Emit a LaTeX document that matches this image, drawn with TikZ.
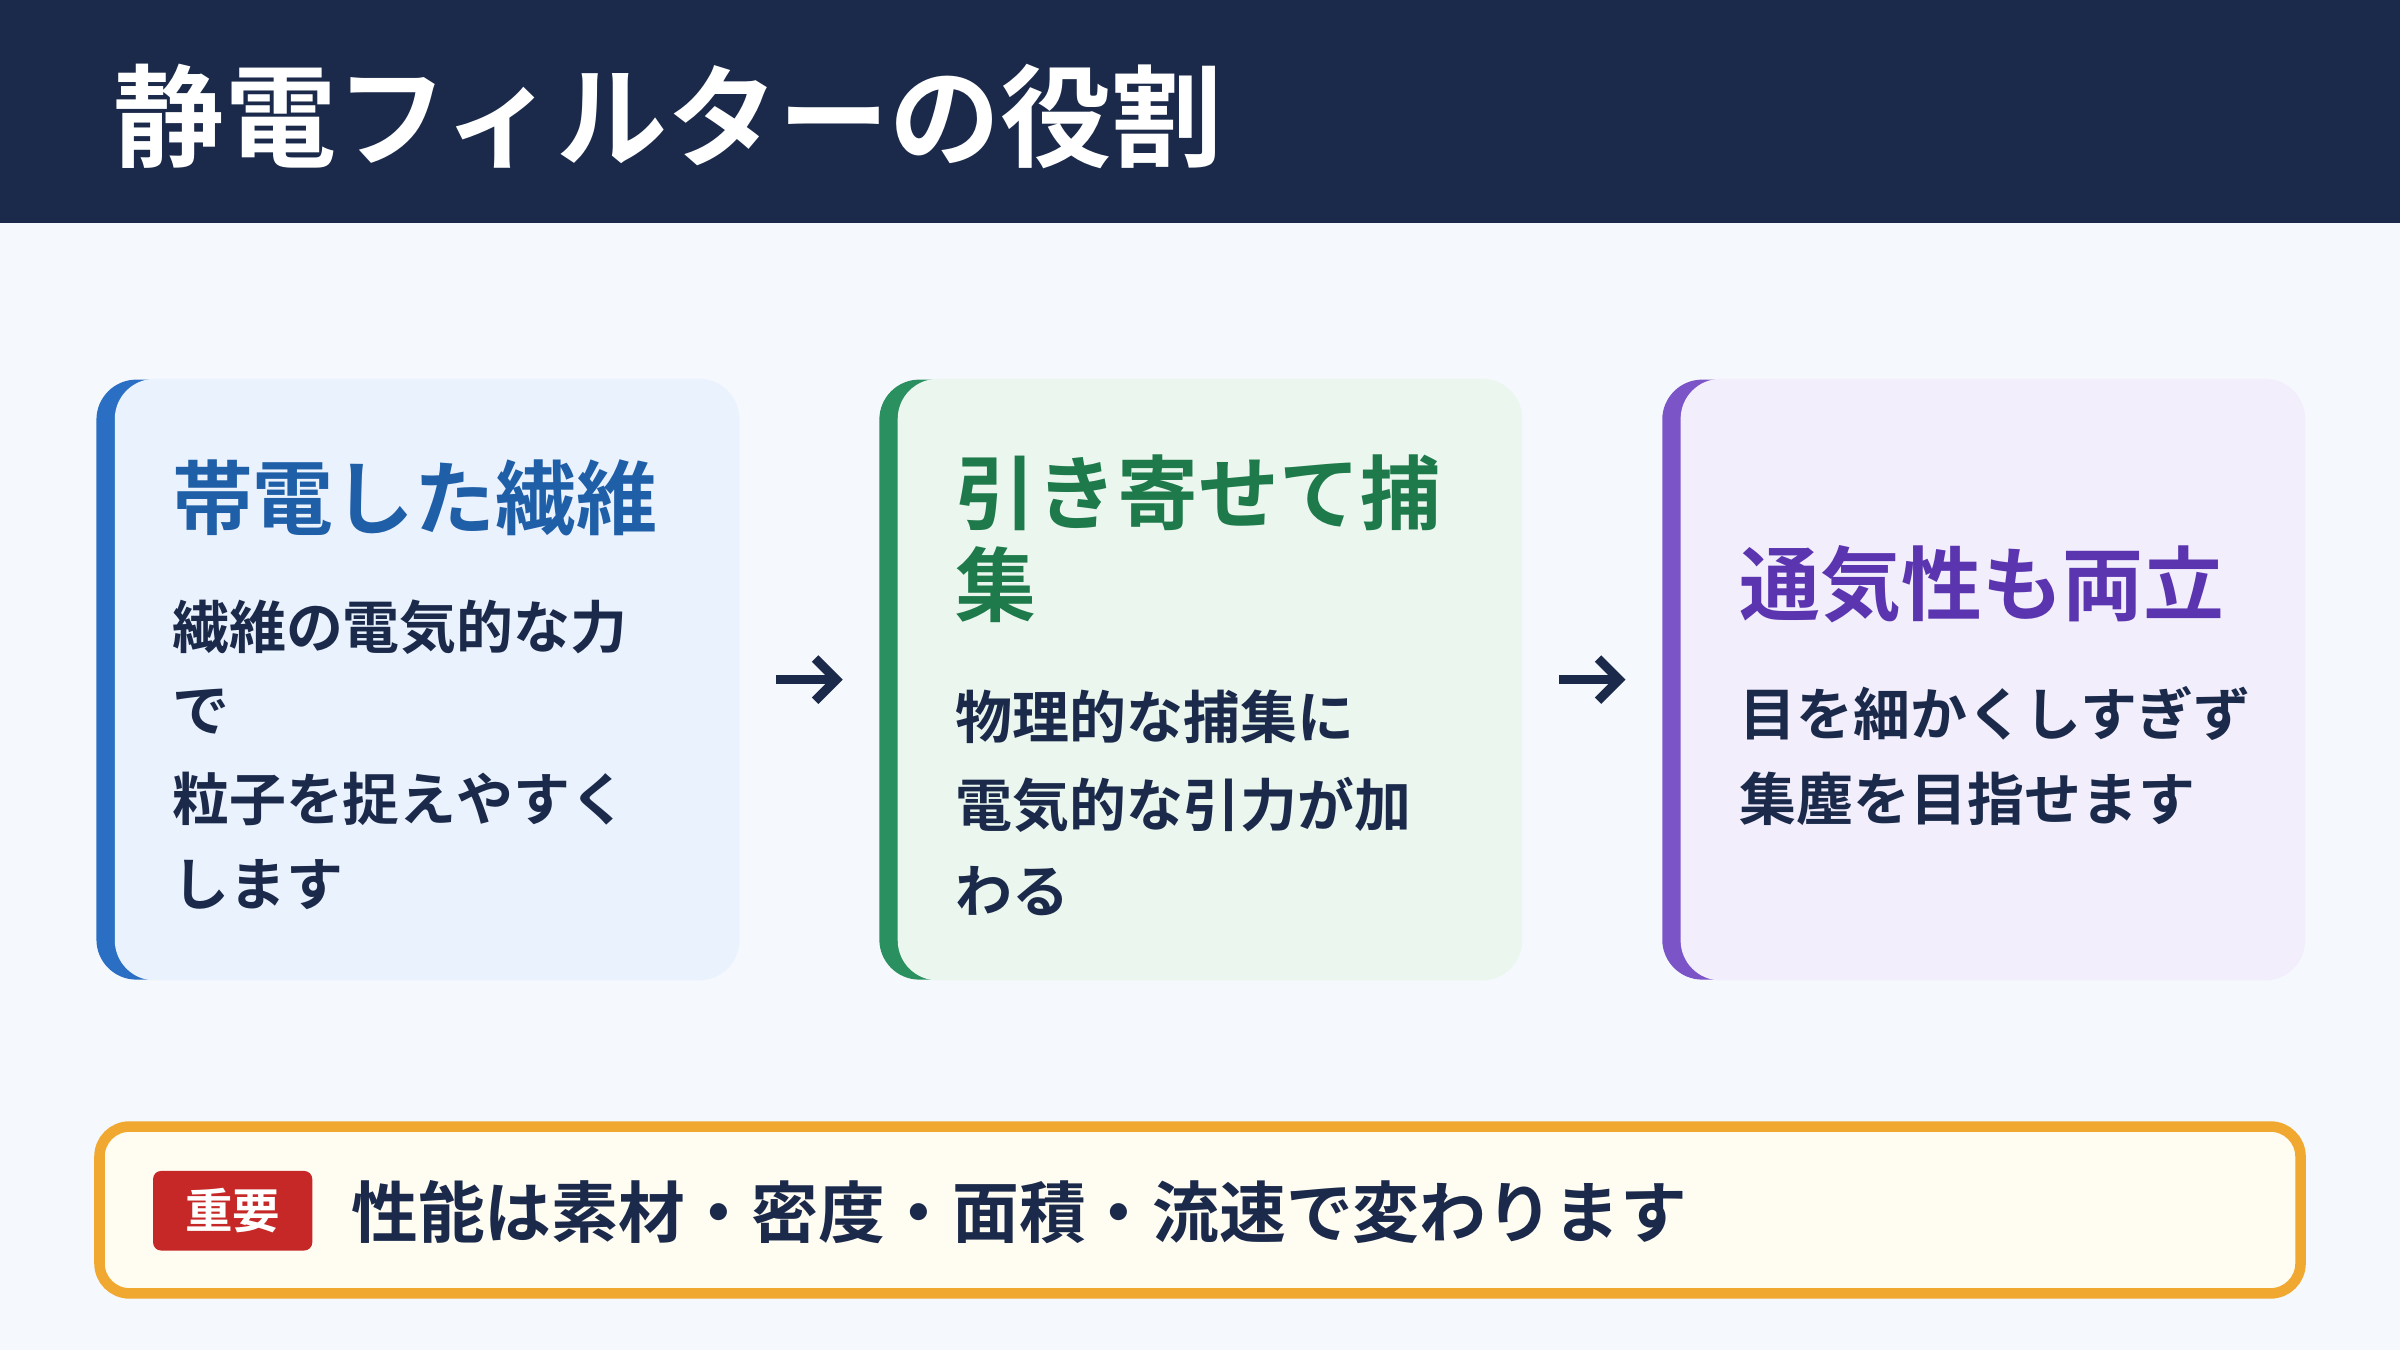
\documentclass[tikz,border=0pt]{standalone}
\usepackage{fontspec}
\setmainfont{Noto Sans CJK JP}[BoldFont={* Bold}]
\usetikzlibrary{arrows.meta}
\definecolor{navy}{HTML}{1B2A4A}
\definecolor{pagebg}{HTML}{F5F8FC}
\definecolor{blueacc}{HTML}{2A6FC4}
\definecolor{bluefill}{HTML}{EAF2FE}
\definecolor{bluetxt}{HTML}{1F5FA8}
\definecolor{greenacc}{HTML}{2A9060}
\definecolor{greenfill}{HTML}{EAF6EE}
\definecolor{greentxt}{HTML}{1E7A4A}
\definecolor{purpacc}{HTML}{7B55C8}
\definecolor{purpfill}{HTML}{F2EEFC}
\definecolor{purptxt}{HTML}{5B35B0}
\definecolor{orangeln}{HTML}{F0A830}
\definecolor{notefill}{HTML}{FFFCF2}
\definecolor{badgered}{HTML}{C62828}
\tikzset{
  card/.style = {draw=none, rounded corners=0.4cm, minimum width={419*0.015306cm}, minimum height={392*0.015306cm}, inner sep=0pt},
  inner/.style = {draw=none, rounded corners=0.4cm, minimum width={408*0.015306cm}, minimum height={393*0.015306cm}, inner sep=0pt},
  ctitle/.style = {anchor=west, font=\bfseries\fontsize{23}{27}\selectfont, inner sep=0pt},
  cbody/.style = {anchor=west, font=\bfseries\fontsize{16.2}{19}\selectfont, text=navy, inner sep=0pt},
  flow/.style = {-{Straight Barb[length=6pt,width=12pt]}, line width=2.6pt, draw=navy, shorten <=0.38cm, shorten >=0.36cm}
}
\begin{document}
\begin{tikzpicture}[x=0.015306cm, y=-0.015306cm]
    \fill[pagebg] (0,0) rectangle (1568,882);
    \useasboundingbox (0,0) rectangle (1568,882);
    % Header
    \fill[navy] (0,0) rectangle (1568,146);
    \node[anchor=west, text=white, font=\bfseries\fontsize{31.6}{36}\selectfont, inner sep=0pt] (title) at (74,76) {静電フィルターの役割};
    % Cards
    \node[card, fill=blueacc] (c1) at (272.5,444) {};
    \node[inner, fill=bluefill] at (279,444) {};
    \node[card, fill=greenacc] (c2) at (784,444) {};
    \node[inner, fill=greenfill] at (790.5,444) {};
    \node[card, fill=purpacc] (c3) at (1295.5,444) {};
    \node[inner, fill=purpfill] at (1302,444) {};
    \draw[flow] (c1.east) -- (c2.west);
    \draw[flow] (c2.east) -- (c3.west);
    % Card texts
    \node[ctitle, text=bluetxt] (t1) at (112,325) {帯電した繊維};
    \node[cbody] at (112,410) {繊維の電気的な力};
    \node[cbody] at (112,465) {で};
    \node[cbody] at (112,522) {粒子を捉えやすく};
    \node[cbody] at (112,578) {します};
    \node[ctitle, text=greentxt] (t2) at (624,322) {引き寄せて捕};
    \node[ctitle, text=greentxt] at (624,382) {集};
    \node[cbody] at (624,468) {物理的な捕集に};
    \node[cbody] at (624,526) {電気的な引力が加};
    \node[cbody] at (624,582) {わる};
    \node[ctitle, text=purptxt] (t3) at (1136,382) {通気性も両立};
    \node[cbody] at (1136,466) {目を細かくしすぎず};
    \node[cbody] at (1136,522) {集塵を目指せます};
    % Note
    \draw[orangeln, fill=notefill, line width=3pt, rounded corners=0.3cm] (65,736) rectangle (1503,845);
    \node[fill=badgered, rounded corners=0.08cm, minimum width={104*0.015306cm}, minimum height={52*0.015306cm}, text=white, font=\bfseries\fontsize{13.5}{15}\selectfont, inner sep=0pt] (badge) at (152,791) {重要};
    \node[anchor=west, text=navy, font=\bfseries\fontsize{19}{23}\selectfont, inner sep=0pt] (note) at (229,792) {性能は素材・密度・面積・流速で変わります};
\end{tikzpicture}
\end{document}
